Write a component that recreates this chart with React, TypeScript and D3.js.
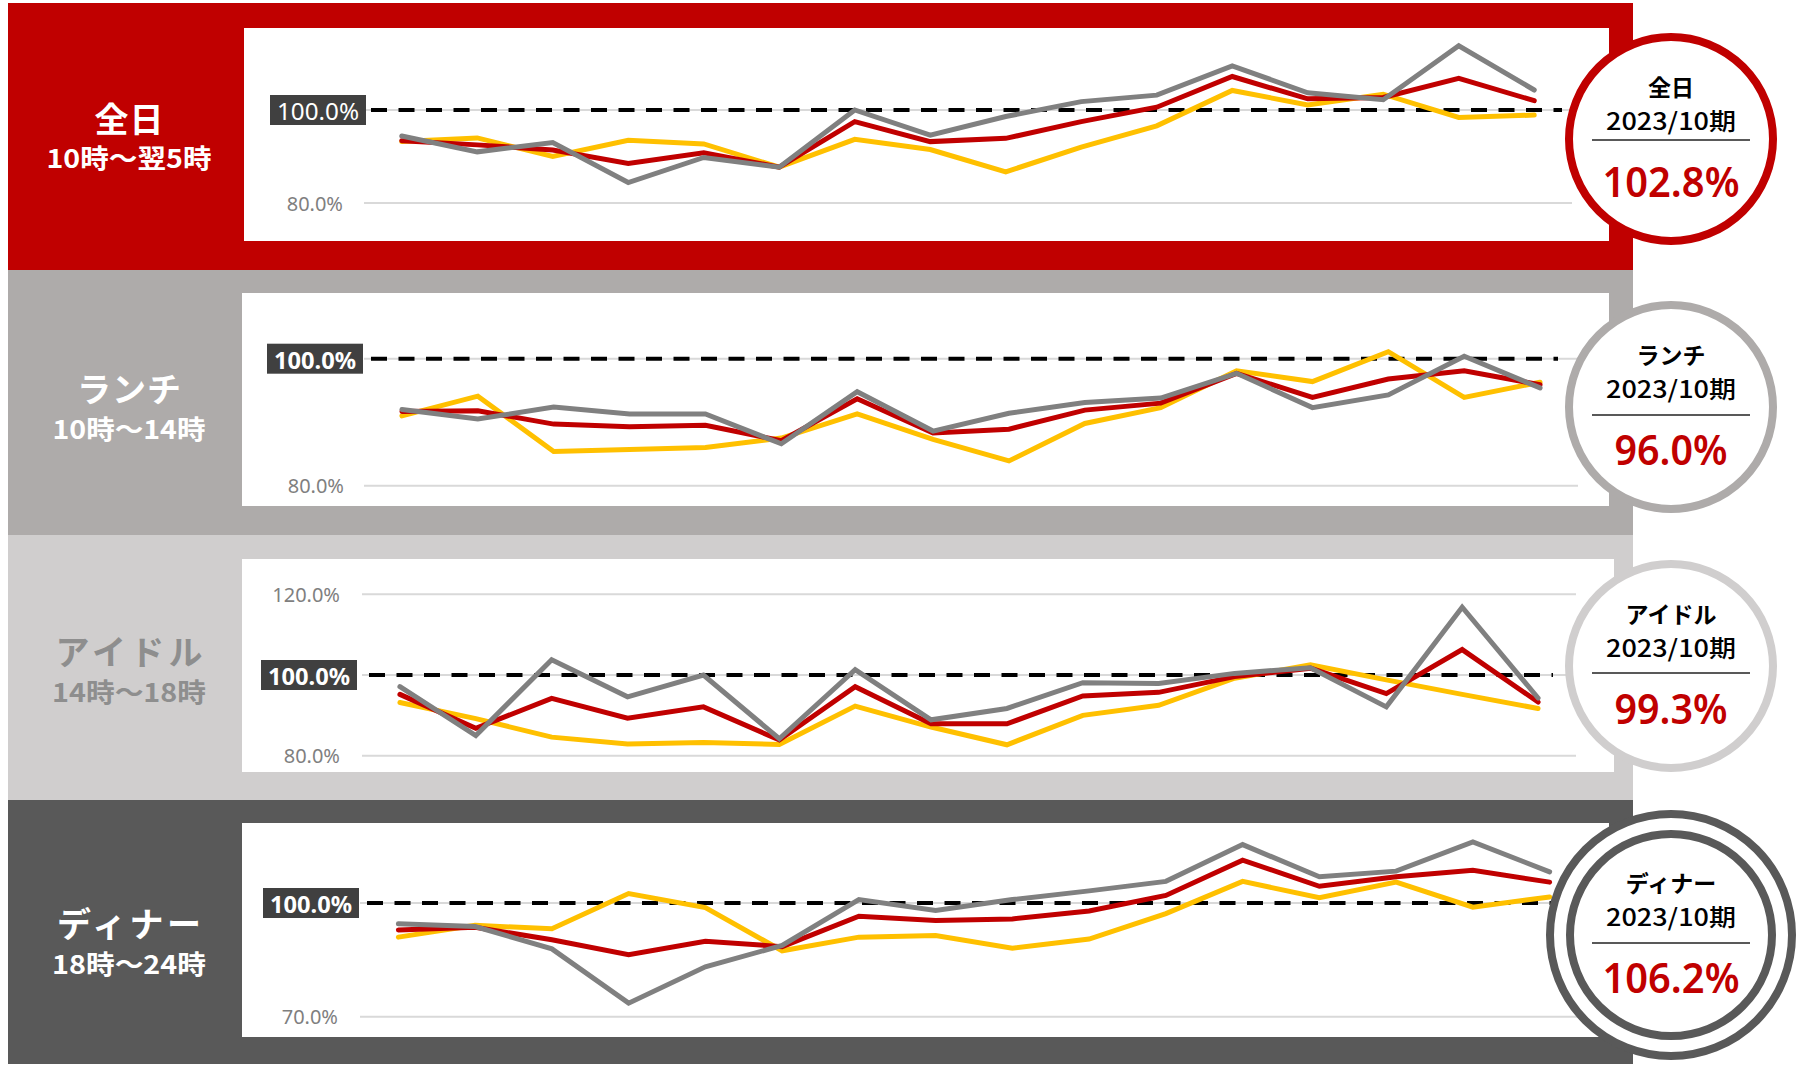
import React from 'react';
import * as d3 from 'd3';

// ---------- DATA ----------
const categories = ['1', '2', '3', '4', '5', '6', '7', '8', '9', '10', '11', '12', '13', '14', '15', '16'];
const segmentNames = ['全日', 'ランチ', 'アイドル', 'ディナー'];
const segmentHours = ['10時～翌5時', '10時～14時', '14時～18時', '18時～24時'];
const periodLabel = '2023/10期';
const summaryValues = [102.8, 96.0, 99.3, 106.2];
const axisTicks = [[80, 100], [80, 100], [80, 100, 120], [70, 100]];
const baseline = 100;

const allDayRed = [93.4, 92.5, 91.4, 88.5, 90.8, 87.7, 97.5, 93.2, 93.9, 97.5, 100.6, 107.2, 102.4, 102.7, 106.8, 102.0];
const allDayYellow = [93.2, 94.0, 90.0, 93.5, 92.7, 87.7, 93.7, 91.5, 86.7, 92.0, 96.6, 104.2, 101.1, 103.4, 98.4, 98.9];
const allDayGray = [94.4, 91.0, 93.0, 84.4, 89.8, 87.7, 100.0, 94.6, 98.6, 101.8, 103.2, 109.5, 103.7, 102.2, 113.8, 104.3];

const lunchRed = [91.7, 91.8, 89.7, 89.3, 89.5, 87.1, 93.7, 88.3, 88.9, 91.9, 93.0, 97.7, 93.9, 96.8, 98.1, 95.9];
const lunchYellow = [91.0, 94.1, 85.4, 85.7, 86.0, 87.5, 91.3, 87.3, 83.9, 89.8, 92.3, 98.1, 96.4, 101.1, 93.9, 96.3];
const lunchGray = [92.0, 90.5, 92.4, 91.3, 91.3, 86.6, 94.8, 88.6, 91.4, 93.1, 93.8, 97.7, 92.3, 94.3, 100.4, 95.4];

const idleRed = [95.2, 86.8, 94.2, 89.3, 92.1, 83.9, 97.1, 87.9, 87.9, 94.8, 95.7, 99.6, 101.7, 95.4, 106.3, 93.3];
const idleYellow = [93.2, 89.2, 84.6, 82.9, 83.3, 82.8, 92.3, 87.1, 82.7, 90.0, 92.5, 99.2, 102.5, 98.8, 95.2, 91.7];
const idleGray = [97.1, 85.0, 103.8, 94.6, 100.0, 84.2, 101.3, 88.9, 91.7, 98.1, 97.9, 100.4, 101.8, 92.1, 116.8, 94.3];

const dinnerRed = [92.9, 93.6, 90.3, 86.4, 89.9, 88.5, 96.5, 95.4, 95.8, 97.9, 102.0, 111.3, 104.4, 106.9, 108.6, 105.5];
const dinnerYellow = [91.0, 94.1, 93.2, 102.5, 98.8, 87.4, 91.0, 91.4, 88.1, 90.5, 97.2, 105.7, 101.4, 105.5, 98.9, 101.6];
const dinnerGray = [94.5, 93.8, 87.9, 73.6, 83.2, 88.8, 100.9, 98.0, 100.9, 103.2, 105.7, 115.4, 106.9, 108.4, 116.1, 108.2];

const seriesBySegment = [
  [allDayYellow, allDayRed, allDayGray],
  [lunchYellow, lunchRed, lunchGray],
  [idleYellow, idleRed, idleGray],
  [dinnerYellow, dinnerRed, dinnerGray],
];

// ---------- LAYOUT / STYLE ----------
const W = 1797;
const H = 1066;
const seriesColors = ['#FFC000', '#C00000', '#808080'];
const CX = 1671;

const layout = [
  { band: [3, 270], plot: [244, 28, 1609, 241], x: [364, 1572], yMap: [80, 203, 100, 110], boxRight: 366, tickRight: 343, dashEnd: 1562,
    titleY: 117, subY: 156, titleW: 69, subW: 165, bg: '#C00000', fg: '#FFFFFF', cy: 139, ruleY: 140, ring: '#C00000', double: false },
  { band: [270, 535], plot: [242, 293, 1609, 506], x: [364, 1578], yMap: [80, 485.7, 100, 358.7], boxRight: 363, tickRight: 344, dashEnd: 1558,
    titleY: 387, subY: 427, titleW: 104, subW: 153, bg: '#AEABAA', fg: '#FFFFFF', cy: 407, ruleY: 415, ring: '#AEABAA', double: false },
  { band: [535, 800], plot: [242, 559, 1614, 772], x: [362, 1576], yMap: [80, 755.7, 100, 675], boxRight: 357, tickRight: 340, dashEnd: 1553,
    titleY: 650, subY: 690, titleW: 147, subW: 154, bg: '#D0CECE', fg: '#8E8E8E', cy: 666, ruleY: 673, ring: '#D0CECE', double: false },
  { band: [800, 1064], plot: [242, 823, 1609, 1037], x: [360, 1588], yMap: [70, 1016.8, 100, 903], boxRight: 359, tickRight: 338, dashEnd: 1552,
    titleY: 922, subY: 962, titleW: 144, subW: 154, bg: '#595959', fg: '#FFFFFF', cy: 935, ruleY: 943, ring: '#595959', double: true },
];

const fmt = (v: number) => d3.format('.1f')(v) + '%';

function Panel({ i }: { i: number }) {
  const L = layout[i];
  const x = d3.scalePoint<string>().domain(categories).range(L.x as [number, number]).padding(0.5);
  const y = d3.scaleLinear().domain([L.yMap[0], L.yMap[2]]).range([L.yMap[1], L.yMap[3]]);
  const line = d3.line<number>().x((_, k) => x(categories[k]) as number).y((d) => y(d));
  const [px0, py0, px1, py1] = L.plot;
  const labelX = 129;
  return (
    <g>
      <rect x={8} y={L.band[0]} width={1625} height={L.band[1] - L.band[0]} fill={L.bg} />
      <rect x={px0} y={py0} width={px1 - px0} height={py1 - py0} fill="#FFFFFF" />
      <text x={labelX} y={L.titleY} textAnchor="middle" dominantBaseline="central" fill={L.fg}
        fontSize={34} fontWeight={700} textLength={L.titleW} lengthAdjust="spacing">{segmentNames[i]}</text>
      <text x={labelX} y={L.subY} textAnchor="middle" dominantBaseline="central" fill={L.fg}
        fontSize={26} fontWeight={700} textLength={L.subW} lengthAdjust="spacingAndGlyphs">{segmentHours[i]}</text>
      {axisTicks[i].map((t) => (
        <line key={'g' + t} x1={L.x[0]} x2={L.x[1]} y1={y(t)} y2={y(t)} stroke="#D9D9D9" strokeWidth={2} />
      ))}
      {axisTicks[i].filter((t) => t !== baseline).map((t) => (
        <text key={'t' + t} x={L.tickRight} y={y(t)} textAnchor="end" dominantBaseline="central" fill="#7F7F7F" fontSize={20}
          fontFamily="'Noto Sans', sans-serif">{fmt(t)}</text>
      ))}
      <line x1={L.x[0] + 7} x2={L.dashEnd} y1={y(baseline)} y2={y(baseline)} stroke="#000000" strokeWidth={4} strokeDasharray="16 11.5" />
      {seriesBySegment[i].map((s, k) => (
        <path key={'s' + k} d={line(s) as string} fill="none" stroke={seriesColors[k]} strokeWidth={5}
          strokeLinecap="round" strokeLinejoin="miter" />
      ))}
      <rect x={L.boxRight - 96} y={y(baseline) - 15} width={96} height={30} fill="#404040" />
      <text x={L.boxRight - 48} y={y(baseline) + 1} textAnchor="middle" dominantBaseline="central" fill="#FFFFFF"
        fontSize={23} fontWeight={i === 0 ? 400 : 700} fontFamily="'Noto Sans', sans-serif" textLength={82} lengthAdjust="spacingAndGlyphs">{fmt(baseline)}</text>
    </g>
  );
}

function Badge({ i }: { i: number }) {
  const L = layout[i];
  return (
    <g>
      {L.double ? (
        <>
          <circle cx={CX} cy={L.cy} r={121} fill="#FFFFFF" stroke={L.ring} strokeWidth={8} />
          <circle cx={CX} cy={L.cy} r={101} fill="#FFFFFF" stroke={L.ring} strokeWidth={8} />
        </>
      ) : (
        <circle cx={CX} cy={L.cy} r={102} fill="#FFFFFF" stroke={L.ring} strokeWidth={8} />
      )}
      <text x={CX} y={L.cy - 53} textAnchor="middle" dominantBaseline="central" fill="#000000" fontSize={23} fontWeight={600}>{segmentNames[i]}</text>
      <text x={CX} y={L.cy - 20} textAnchor="middle" dominantBaseline="central" fill="#000000" fontSize={24} fontWeight={500}
        textLength={130} lengthAdjust="spacingAndGlyphs">{periodLabel}</text>
      <line x1={CX - 79} x2={CX + 79} y1={L.ruleY} y2={L.ruleY} stroke="#595959" strokeWidth={2} />
      <text x={CX} y={L.cy + 41} textAnchor="middle" dominantBaseline="central" fill="#C00000" fontSize={42} fontWeight={600}
        fontFamily="'Noto Sans', sans-serif" textLength={i === 0 || i === 3 ? 137 : 113} lengthAdjust="spacingAndGlyphs">{fmt(summaryValues[i])}</text>
    </g>
  );
}

export default function App() {
  return (
    <svg width={W} height={H} viewBox={`0 0 ${W} ${H}`} style={{ position: 'absolute', left: 0, top: 0, background: '#FFFFFF' }}
      fontFamily="'Noto Sans CJK JP', 'Noto Sans', sans-serif">
      {layout.map((_, i) => <Panel key={'p' + i} i={i} />)}
      {layout.map((_, i) => <Badge key={'b' + i} i={i} />)}
    </svg>
  );
}
